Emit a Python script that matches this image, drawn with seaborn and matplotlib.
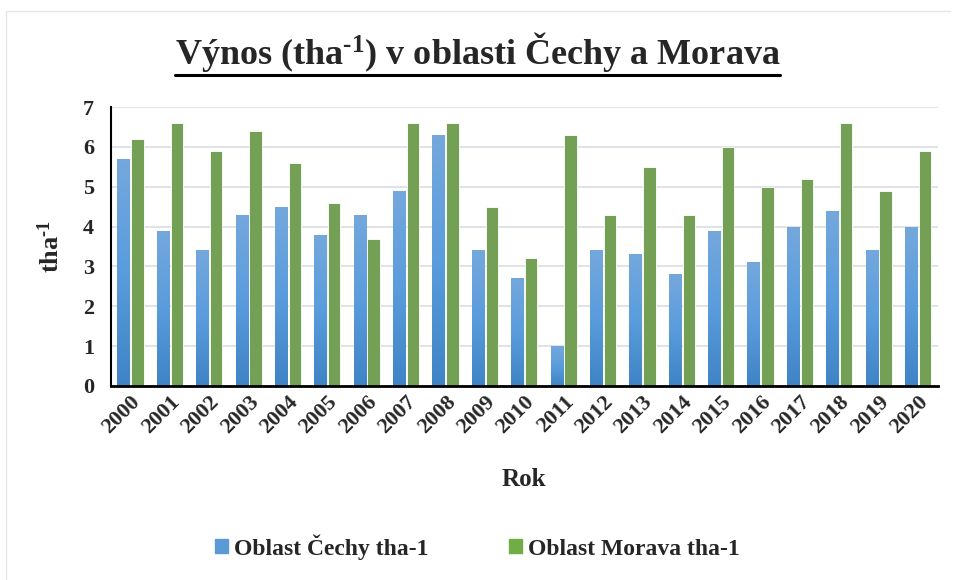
import numpy as np
import pandas as pd
import matplotlib
matplotlib.use('Agg')
import matplotlib.pyplot as plt
import seaborn as sns
from matplotlib.lines import Line2D
from matplotlib.colors import LinearSegmentedColormap

# data
roky = [str(r) for r in range(2000, 2021)]
cechy = [5.7, 3.9, 3.4, 4.3, 4.5, 3.8, 4.3, 4.9, 6.3, 3.4, 2.7,
         1.0, 3.4, 3.3, 2.8, 3.9, 3.1, 4.0, 4.4, 3.4, 4.0]
morava = [6.2, 6.6, 5.9, 6.4, 5.6, 4.6, 3.7, 6.6, 6.6, 4.5, 3.2,
          6.3, 4.3, 5.5, 4.3, 6.0, 5.0, 5.2, 6.6, 4.9, 5.9]
serie = ['Oblast Čechy tha-1', 'Oblast Morava tha-1']
barvy = ['#5B9BD5', '#70AD47']

df = pd.DataFrame({
    'Rok': roky * 2,
    'hodnota': cechy + morava,
    'oblast': [serie[0]] * len(roky) + [serie[1]] * len(roky),
})

sns.set_theme(style='white')
plt.rcParams['font.family'] = ['Liberation Serif', 'DejaVu Serif']
plt.rcParams['font.weight'] = 'bold'
plt.rcParams['mathtext.fontset'] = 'custom'
plt.rcParams['mathtext.default'] = 'regular'
plt.rcParams['mathtext.rm'] = 'Liberation Serif:bold'
plt.rcParams['mathtext.bf'] = 'Liberation Serif:bold'

fig = plt.figure(figsize=(9.55, 5.8), dpi=100)
ax = fig.add_axes([0.116, 0.3345, 0.866, 0.481])

sns.barplot(data=df, x='Rok', y='hodnota', hue='oblast', palette=barvy,
            width=0.7, gap=0.1, edgecolor='white', linewidth=0.6, ax=ax)

# gradient on the blue bars (lighter at the top, darker at the bottom)
grad = LinearSegmentedColormap.from_list('modra', ['#3F84C5', '#5A9CDC', '#74A8DC'])
for p in ax.containers[0]:
    x0, y0 = p.get_x(), p.get_y()
    w, h = p.get_width(), p.get_height()
    im = ax.imshow(np.linspace(0, 1, 64).reshape(-1, 1), cmap=grad, origin='lower',
                   extent=[x0, x0 + w, y0, y0 + h], aspect='auto', zorder=p.get_zorder())
    im.set_clip_path(p)
ax.set_xlim(-0.5, len(roky) - 0.5)
ax.set_ylim(0, 7)
ax.set_aspect('auto')

ax.set_yticks(range(0, 8))
ax.yaxis.grid(True, color='#D9DEE4', linewidth=1.2)
ax.set_axisbelow(True)
for s in ['top', 'right']:
    ax.spines[s].set_visible(False)
ax.spines['left'].set_color('black')
ax.spines['left'].set_linewidth(1.5)
ax.spines['bottom'].set_color('black')
ax.spines['bottom'].set_linewidth(2)
ax.tick_params(axis='both', length=0, labelsize=16)
ax.tick_params(axis='y', pad=12)
ax.tick_params(axis='x', pad=4)
plt.setp(ax.get_xticklabels(), rotation=45, ha='right', rotation_mode='anchor',
         fontweight='bold')
plt.setp(ax.get_yticklabels(), fontweight='bold')

ax.set_xlabel('Rok', fontsize=18, fontweight='bold', labelpad=22)
ax.set_ylabel(r'tha$^{\text{-1}}$', fontsize=19, fontweight='bold', labelpad=14)

ax.legend_.remove()
handles = [plt.Rectangle((0, 0), 1, 1, color=barvy[0]),
           plt.Rectangle((0, 0), 1, 1, color=barvy[1])]
fig.legend(handles, serie, loc='center', bbox_to_anchor=(0.5, 0.057), ncol=2,
           frameon=False, handlelength=0.55, handleheight=0.55, handletextpad=0.25,
           columnspacing=3.4, prop={'size': 17, 'weight': 'bold'})

title = fig.text(0.5, 0.91, r'Výnos (tha$^{\text{-1}}$) v oblasti Čechy a Morava',
                 ha='center', va='center', fontsize=26, fontweight='bold')

# underline of the title
fig.canvas.draw()
bb = title.get_window_extent().transformed(fig.transFigure.inverted())
fig.add_artist(Line2D([bb.x0, bb.x1], [bb.y0 - 0.002, bb.y0 - 0.002],
                      color='black', linewidth=2.2))

# light frame of the chart area
fig.add_artist(Line2D([0.006, 0.006, 0.995], [0.0, 0.981, 0.981],
                      color='#E3E7EC', linewidth=1))

fig.savefig('out.png', dpi=100)
